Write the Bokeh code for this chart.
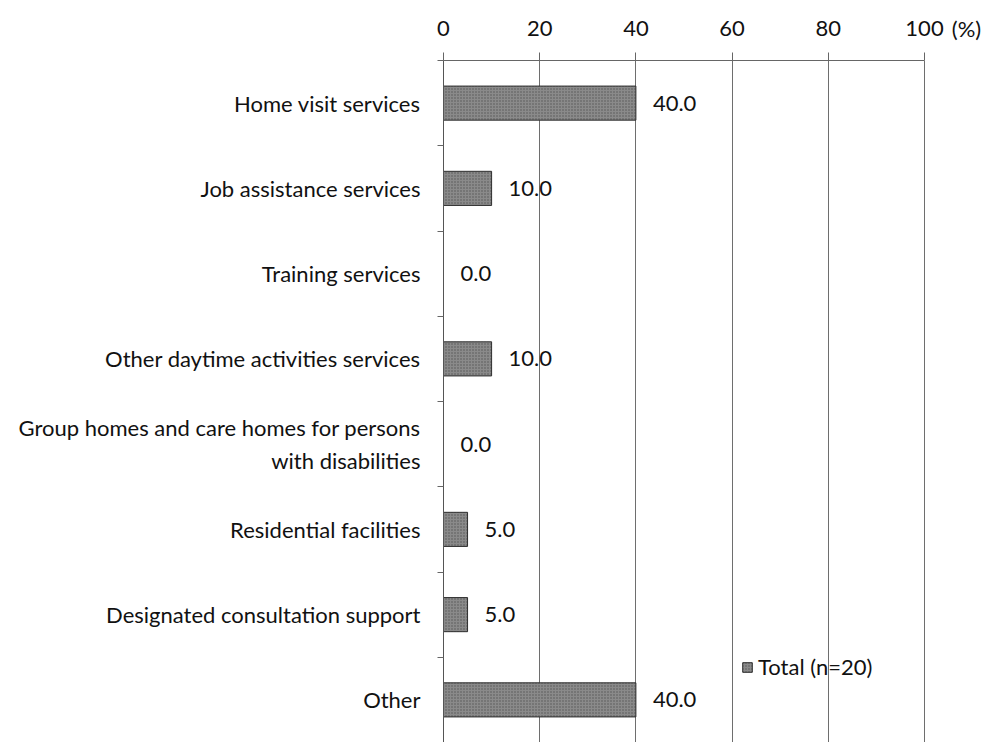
from bokeh.plotting import figure
from bokeh.models import Range1d, FixedTicker, Legend, LegendItem
from bokeh.core.properties import value
from bokeh.embed import file_html
from bokeh.resources import INLINE

# Share of respondents by service type (%)
categories = [
    "Home visit services",
    "Job assistance services",
    "Training services",
    "Other daytime activities services",
    "Group homes and care homes for persons\nwith disabilities",
    "Residential facilities",
    "Designated consultation support",
    "Other",
]
values = [40.0, 10.0, 0.0, 10.0, 0.0, 5.0, 5.0, 40.0]
x_ticks = [0, 20, 40, 60, 80, 100]
x_unit = "(%)"
series_name = "Total (n=20)"

FONT = "Lato"
FS = "22px"
n = len(categories)
centers = [i + 0.5 for i in range(n)]
bounds = list(range(n + 1))

# the frame runs a little past 100 so the unit text can sit beside the last tick
x_end = 100 * 523 / 481

p = figure(
    width=984, height=742,
    x_range=Range1d(0, x_end), y_range=Range1d(n, 0),
    x_axis_location="above",
    output_backend="svg", toolbar_location=None,
    min_border_left=443, min_border_right=18,
    min_border_top=60, min_border_bottom=0,
)
p.outline_line_color = None
p.background_fill_color = "white"
p.border_fill_color = "white"

# top value axis
xa = p.xaxis[0]
xa.ticker = FixedTicker(ticks=x_ticks)
xa.bounds = (0, 100)
xa.major_label_text_font = FONT
xa.major_label_text_font_size = FS
xa.major_label_text_color = "#111111"
xa.major_tick_in = 0
xa.major_tick_out = 8
xa.major_tick_line_color = "#666666"
xa.minor_tick_line_color = None
xa.axis_line_color = "#666666"
xa.major_label_standoff = 17
xa.axis_label = x_unit
xa.axis_label_align = "end"
xa.axis_label_standoff = -24
xa.axis_label_text_font = FONT
xa.axis_label_text_font_size = FS
xa.axis_label_text_font_style = "normal"
xa.axis_label_text_color = "#111111"

# category axis: labels at band centres, tick marks at band boundaries
ya = p.yaxis[0]
ya.ticker = FixedTicker(ticks=centers, minor_ticks=bounds)
ya.major_label_overrides = {c: lab for c, lab in zip(centers, categories)}
ya.major_label_text_font = FONT
ya.major_label_text_font_size = FS
ya.major_label_text_color = "#111111"
ya.major_tick_line_color = None
ya.minor_tick_in = 0
ya.minor_tick_out = 6
ya.minor_tick_line_color = "#666666"
ya.axis_line_color = "#555555"
ya.major_label_standoff = 17

p.xgrid.ticker = FixedTicker(ticks=x_ticks)
p.xgrid.grid_line_color = "#6e6e6e"
p.xgrid.grid_line_width = 1
p.ygrid.grid_line_color = None

# grainy grey bars
bars = p.hbar(y=centers, left=0, right=values, height=0.4,
              fill_color="#8a8a8a", line_color="#2e2e2e", line_width=1,
              hatch_pattern="dot", hatch_color="#555555",
              hatch_scale=3, hatch_weight=1)

p.text(x=values, y=centers, text=[f"{v:.1f}" for v in values],
       x_offset=17, text_align="left", text_baseline="middle",
       text_font=value(FONT), text_font_size=FS, text_color="#111111")

legend = Legend(items=[LegendItem(label=series_name, renderers=[bars])],
                location=(298, 62), glyph_width=12, glyph_height=12,
                label_standoff=5, padding=0, margin=0,
                border_line_color=None, background_fill_alpha=0,
                label_text_font=FONT, label_text_font_size=FS,
                label_text_color="#111111")
p.add_layout(legend)

open("out.html", "w").write(file_html(p, INLINE))
